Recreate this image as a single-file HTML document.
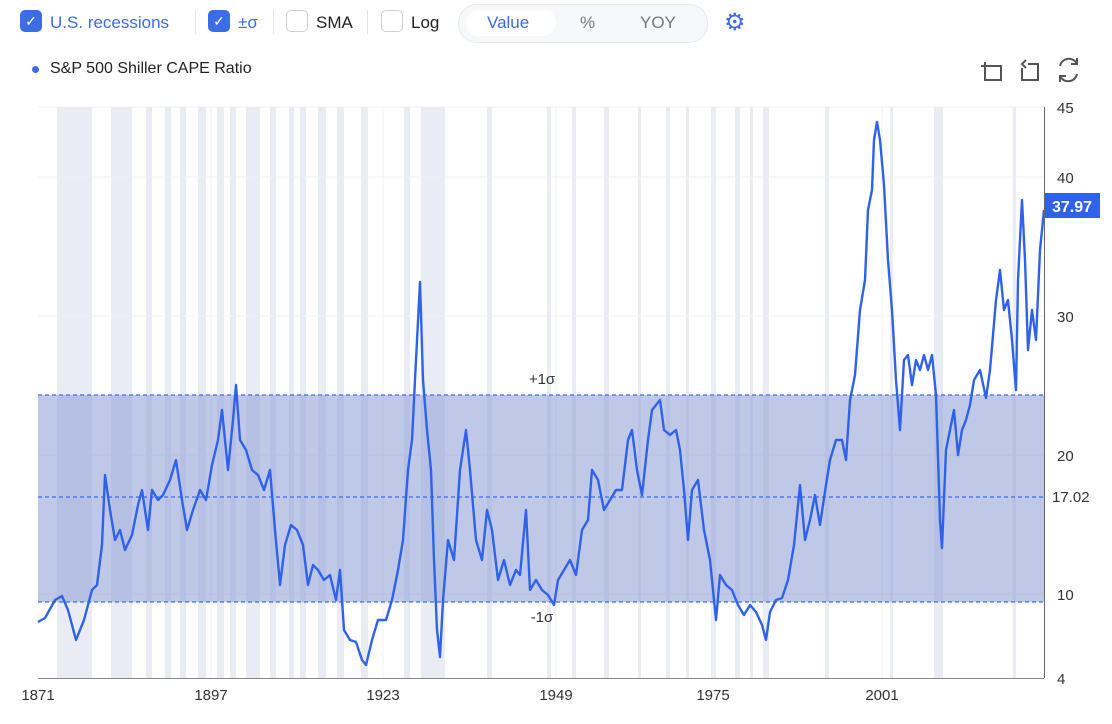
<!DOCTYPE html><html><head><style>
body{margin:0;width:1112px;height:724px;background:#fff;font-family:"Liberation Sans",sans-serif;overflow:hidden;position:relative}
.t{position:absolute;font-size:17px;color:#222;top:13px}
.cb{position:absolute;top:10px;width:22px;height:22px;border-radius:5px;box-sizing:border-box}
.on{background:#3d6de6;color:#fff;text-align:center;line-height:22px;font-size:14px}
.off{border:1.5px solid #ccd;background:#fff}
.sep{position:absolute;top:10px;width:1px;height:24px;background:#e2e2e8}
</style></head><body>
<div class="cb on" style="left:20px">✓</div><div class="t" style="left:50px;color:#3d6de6">U.S. recessions</div>
<div class="sep" style="left:195px"></div>
<div class="cb on" style="left:208px">✓</div><div class="t" style="left:238px;color:#3d6de6">±σ</div>
<div class="sep" style="left:273px"></div>
<div class="cb off" style="left:286px"></div><div class="t" style="left:316px">SMA</div>
<div class="sep" style="left:367px"></div>
<div class="cb off" style="left:381px"></div><div class="t" style="left:411px">Log</div>
<div style="position:absolute;left:458px;top:4px;width:248px;height:37px;border:1px solid #e6e8ee;border-radius:19px;background:#f7f8fa"></div>
<div style="position:absolute;left:466px;top:10px;width:90px;height:26px;border-radius:13px;background:#fff"></div>
<div class="t" style="left:487px;color:#3d6de6">Value</div><div class="t" style="left:580px;color:#777">%</div><div class="t" style="left:640px;color:#777">YOY</div>
<div style="position:absolute;left:724px;top:8px;font-size:24px;color:#3d6de6">⚙</div>
<div style="position:absolute;left:32px;top:66px;width:7px;height:7px;border-radius:50%;background:#3d6de6"></div>
<div style="position:absolute;left:50px;top:60px;font-size:16px;color:#222">S&amp;P 500 Shiller CAPE Ratio</div>
<svg style="position:absolute;left:0;top:0" width="1112" height="724">
<g fill="none" stroke="#555" stroke-width="2"><path d="M985 66v14h16v-14h-12M985 62v8M981 66h8"/><path d="M1022 68v12h16v-16h-10M1026 60l-4 4 4 4"/><path d="M1060 66a9 9 0 0 1 17-2M1077 74a9 9 0 0 1-17 2M1077 58v6h-6M1060 82v-6h6"/></g>
<g fill="#e9edf3">
<rect x="57" y="107" width="35" height="571"/><rect x="111" y="107" width="21" height="571"/><rect x="146" y="107" width="6" height="571"/><rect x="165" y="107" width="6" height="571"/><rect x="180" y="107" width="6" height="571"/><rect x="198" y="107" width="8" height="571"/><rect x="217" y="107" width="7" height="571"/><rect x="230" y="107" width="6" height="571"/><rect x="246" y="107" width="14" height="571"/><rect x="270" y="107" width="6" height="571"/><rect x="289" y="107" width="5" height="571"/><rect x="300" y="107" width="6" height="571"/><rect x="318" y="107" width="8" height="571"/><rect x="337" y="107" width="7" height="571"/><rect x="361" y="107" width="7" height="571"/><rect x="404" y="107" width="6" height="571"/><rect x="421" y="107" width="24" height="571"/><rect x="487" y="107" width="5" height="571"/><rect x="547" y="107" width="4" height="571"/><rect x="572" y="107" width="4" height="571"/><rect x="604" y="107" width="5" height="571"/><rect x="638" y="107" width="3" height="571"/><rect x="666" y="107" width="4" height="571"/><rect x="686" y="107" width="3" height="571"/><rect x="711" y="107" width="5" height="571"/><rect x="735" y="107" width="5" height="571"/><rect x="750" y="107" width="3" height="571"/><rect x="763" y="107" width="6" height="571"/><rect x="825" y="107" width="4" height="571"/><rect x="890" y="107" width="3" height="571"/><rect x="934" y="107" width="9" height="571"/><rect x="1013" y="107" width="3" height="571"/>
</g>
<g stroke="#edf0f6" stroke-width="1"><path d="M38 107H1044M38 177H1044M38 316H1044M38 455H1044M38 594H1044M211 107V678M383 107V678M556 107V678M713 107V678M882 107V678M1013 107V678"/></g>
<rect x="38" y="395" width="1006" height="207" fill="#8c9bd6" opacity="0.55"/>
<g stroke="#3d6de6" stroke-width="1.2" stroke-dasharray="4 3"><path d="M38 395H1044M38 497H1044M38 602H1044"/></g>
<polyline fill="none" stroke="#2f62ea" stroke-width="2.4" stroke-linejoin="round" points="38,622 45,618 55,600 62,596 68,610 76,640 84,620 92,590 97,585 102,545 105,475 110,510 115,540 120,530 125,550 132,535 138,505 142,490 148,530 152,490 158,500 163,495 170,480 176,460 182,500 187,530 193,510 200,490 206,500 212,465 218,440 222,410 228,470 233,420 236,385 240,440 246,450 252,470 258,475 264,490 270,470 275,530 280,585 285,545 291,525 297,530 303,545 308,585 313,565 318,570 324,580 330,575 336,600 340,570 344,630 350,640 356,642 362,660 366,665 372,640 378,620 386,620 392,600 398,570 403,540 408,470 412,440 416,360 420,282 423,380 427,430 431,470 434,560 437,630 440,657 443,600 448,540 454,560 460,470 466,430 470,470 476,540 482,560 487,510 492,530 498,580 504,560 510,585 516,570 520,575 526,510 530,590 536,580 542,590 548,595 554,605 558,580 564,570 570,560 576,575 582,530 588,520 592,470 598,480 604,510 610,500 616,490 622,490 628,440 632,430 637,470 642,495 648,440 652,410 656,405 660,400 664,430 670,435 676,430 680,450 684,490 688,540 692,490 698,480 704,530 710,560 716,620 720,575 726,585 732,590 738,605 744,615 750,605 756,612 762,625 766,640 770,612 776,600 782,598 788,580 794,545 800,485 805,540 810,520 815,495 820,525 826,485 830,460 836,440 842,440 846,460 850,400 855,375 860,310 865,280 868,210 872,190 874,140 877,122 880,140 884,185 888,260 892,310 896,380 900,430 904,360 908,355 912,385 916,360 920,370 924,355 928,370 932,355 936,395 940,520 942,548 946,450 950,430 954,410 958,455 962,430 966,420 970,405 974,380 980,370 986,398 990,370 996,300 1000,270 1004,310 1008,300 1012,340 1016,390 1018,280 1022,200 1025,260 1028,350 1032,310 1036,340 1040,250 1044,210"/>
<line x1="1044.5" y1="107" x2="1044.5" y2="678" stroke="#666"/>
<line x1="38" y1="678.5" x2="1044" y2="678.5" stroke="#888"/>
<g font-size="15" fill="#333"><text x="1057" y="113">45</text><text x="1057" y="183">40</text><text x="1057" y="322">30</text><text x="1057" y="461">20</text><text x="1052" y="502">17.02</text><text x="1057" y="600">10</text><text x="1057" y="684">4</text>
<text x="38" y="700" text-anchor="middle">1871</text><text x="211" y="700" text-anchor="middle">1897</text><text x="383" y="700" text-anchor="middle">1923</text><text x="556" y="700" text-anchor="middle">1949</text><text x="713" y="700" text-anchor="middle">1975</text><text x="882" y="700" text-anchor="middle">2001</text>
<text x="542" y="384" text-anchor="middle">+1σ</text><text x="542" y="622" text-anchor="middle">-1σ</text></g>
<rect x="1045" y="193" width="55" height="25" fill="#2f62ea"/>
<text x="1072" y="212" text-anchor="middle" font-size="16" font-weight="bold" fill="#fff">37.97</text>
</svg>
</body></html>
